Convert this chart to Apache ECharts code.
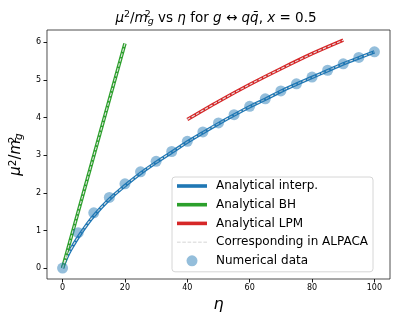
<!DOCTYPE html>
<html>
<head>
<meta charset="utf-8">
<script src="https://cdn.jsdelivr.net/npm/echarts@6/dist/echarts.min.js"></script>
<style>
html,body{margin:0;padding:0;background:#fff;}
#chart{width:398px;height:318px;}
</style>
</head>
<body>
<div id="chart"></div>
<script>
// ---- data ----
const curveEta = [0, 1, 2, 3, 5, 7.5, 10, 15, 20, 25, 30, 35, 40, 45, 50, 55, 60, 65, 70, 75, 80, 85, 90, 95, 100];
const interpVals = [0, 0.22, 0.40, 0.55, 0.82, 1.12, 1.39, 1.83, 2.19, 2.52, 2.81, 3.08, 3.35, 3.60, 3.84, 4.07, 4.29, 4.49, 4.70, 4.89, 5.07, 5.25, 5.43, 5.59, 5.75];
const bhEta = [0, 20];
const bhVals = [0, 5.97];
const lpmEta = [40, 50, 60, 70, 80, 90];
const lpmVals = [3.95, 4.43, 4.88, 5.30, 5.70, 6.06];
const numEta = [0, 5, 10, 15, 20, 25, 30, 35, 40, 45, 50, 55, 60, 65, 70, 75, 80, 85, 90, 95, 100];
const numVals = [0, 0.94, 1.47, 1.88, 2.24, 2.56, 2.84, 3.10, 3.37, 3.62, 3.86, 4.08, 4.30, 4.50, 4.71, 4.90, 5.08, 5.26, 5.43, 5.60, 5.75];
const xTicks = [0, 20, 40, 60, 80, 100];
const yTicks = [0, 1, 2, 3, 4, 5, 6];
const legendNames = ['Analytical interp.', 'Analytical BH', 'Analytical LPM', 'Corresponding in ALPACA', 'Numerical data'];

const zip = (a, b) => a.map((v, i) => [v, b[i]]);
const FONT = 'DejaVu Sans';
const BLUE = '#1f77b4', GREEN = '#2ca02c', RED = '#d62728', DASH = '#e4e4e4';

function mathRich(fs) {
  return {
    n: {fontFamily: FONT, fontSize: fs, lineHeight: fs + 2, color: '#000'},
    i: {fontFamily: FONT, fontSize: fs, fontStyle: 'italic', lineHeight: fs + 2, color: '#000'},
    sup: {fontFamily: FONT, fontSize: fs * 0.7, lineHeight: fs * 0.7, verticalAlign: 'top', color: '#000'},
    sup0: {fontFamily: FONT, fontSize: fs * 0.7, lineHeight: fs * 0.7, verticalAlign: 'top', width: 0, color: '#000'},
    sub: {fontFamily: FONT, fontSize: fs * 0.7, fontStyle: 'italic', lineHeight: fs * 0.9, verticalAlign: 'bottom', color: '#000'}
  };
}

const chart = echarts.init(document.getElementById('chart'), null, {renderer: 'canvas'});

const dashStyle = {color: DASH, width: 1.1, type: [3.5, 1.6]};

const option = {
  animation: false,
  backgroundColor: '#fff',
  grid: {left: 43, right: 8, top: 30, bottom: 39, show: true, borderColor: '#222', borderWidth: 0.8, backgroundColor: 'transparent'},
  graphic: [{
    type: 'text', x: 216, y: 18, z: 100,
    style: {
      text: '{i|μ}{sup|2}{n|/}{i|m}{sup0|2}{sub|g}{n| vs }{i|η}{n| for }{i|g}{n| ↔ }{i|q}{i|q̄}{n|, }{i|x}{n| = 0.5}',
      rich: mathRich(13.5), align: 'center', verticalAlign: 'middle', fontFamily: FONT, fontSize: 13.5
    }
  }],
  xAxis: {
    type: 'value', min: -5, max: 105,
    name: 'η', nameLocation: 'middle', nameGap: 12,
    nameTextStyle: {fontFamily: FONT, fontSize: 16, fontStyle: 'italic', color: '#000'},
    axisLine: {show: false, onZero: false},
    axisTick: {show: true, length: 3.5, inside: false, customValues: xTicks, lineStyle: {color: '#000', width: 0.9}},
    axisLabel: {customValues: xTicks, fontFamily: FONT, fontSize: 8, color: '#000', margin: 5},
    splitLine: {show: false}
  },
  yAxis: {
    type: 'value', min: -0.29, max: 6.33,
    name: '{i|μ}{sup|2}{n|/}{i|m}{sup0|2}{sub|g}', nameLocation: 'middle', nameGap: 13, nameRotate: 90,
    nameTextStyle: {fontFamily: FONT, fontSize: 15, color: '#000', rich: mathRich(15)},
    axisLine: {show: false, onZero: false},
    axisTick: {show: true, length: 3.5, inside: false, customValues: yTicks, lineStyle: {color: '#000', width: 0.9}},
    axisLabel: {customValues: yTicks, fontFamily: FONT, fontSize: 8, color: '#000', margin: 6},
    splitLine: {show: false}
  },
  legend: {
    orient: 'vertical', left: 172, top: 177,
    padding: [3, 5, 5, 5], itemGap: 6.7, itemWidth: 30, itemHeight: 11,
    backgroundColor: 'rgba(255,255,255,0.8)', borderColor: '#cccccc', borderWidth: 0.8, borderRadius: 3,
    textStyle: {fontFamily: FONT, fontSize: 12, color: '#000', padding: [0, 0, 0, 4]},
    selectedMode: false,
    data: [
      {name: legendNames[0], icon: 'path://M0,0h30v3.6h-30z'},
      {name: legendNames[1], icon: 'path://M0,0h30v3.6h-30z'},
      {name: legendNames[2], icon: 'path://M0,0h30v3.6h-30z'},
      {name: legendNames[3], icon: 'path://M0,0h3.5v0.8h-3.5z M5.1,0h3.5v0.8h-3.5z M10.2,0h3.5v0.8h-3.5z M15.3,0h3.5v0.8h-3.5z M20.4,0h3.5v0.8h-3.5z M25.5,0h3.5v0.8h-3.5z'},
      {name: legendNames[4], icon: 'circle'}
    ]
  },
  series: [
    {
      name: legendNames[0], type: 'line', z: 2, data: zip(curveEta, interpVals),
      smooth: 0.4, showSymbol: false, symbol: 'none', color: BLUE,
      lineStyle: {color: BLUE, width: 3.5}
    },
    {
      name: legendNames[1], type: 'line', z: 2, data: zip(bhEta, bhVals),
      showSymbol: false, symbol: 'none', color: GREEN,
      lineStyle: {color: GREEN, width: 3.5}
    },
    {
      name: legendNames[2], type: 'line', z: 2, data: zip(lpmEta, lpmVals),
      smooth: 0.3, showSymbol: false, symbol: 'none', color: RED,
      lineStyle: {color: RED, width: 3.5}
    },
    {
      name: legendNames[3], type: 'line', z: 3, data: zip(curveEta, interpVals),
      smooth: 0.4, showSymbol: false, symbol: 'none', color: '#c8c8c8',
      lineStyle: dashStyle
    },
    {
      name: legendNames[3], type: 'line', z: 3, data: zip(bhEta, bhVals),
      showSymbol: false, symbol: 'none', color: '#c8c8c8',
      lineStyle: dashStyle
    },
    {
      name: legendNames[3], type: 'line', z: 3, data: zip(lpmEta, lpmVals),
      smooth: 0.3, showSymbol: false, symbol: 'none', color: '#c8c8c8',
      lineStyle: dashStyle
    },
    {
      name: legendNames[4], type: 'scatter', z: 4,
      data: zip(numEta, numVals), symbolSize: 11,
      itemStyle: {color: 'rgba(31,119,180,0.6)'}
    }
  ]
};
chart.setOption(option);
</script>
</body>
</html>
